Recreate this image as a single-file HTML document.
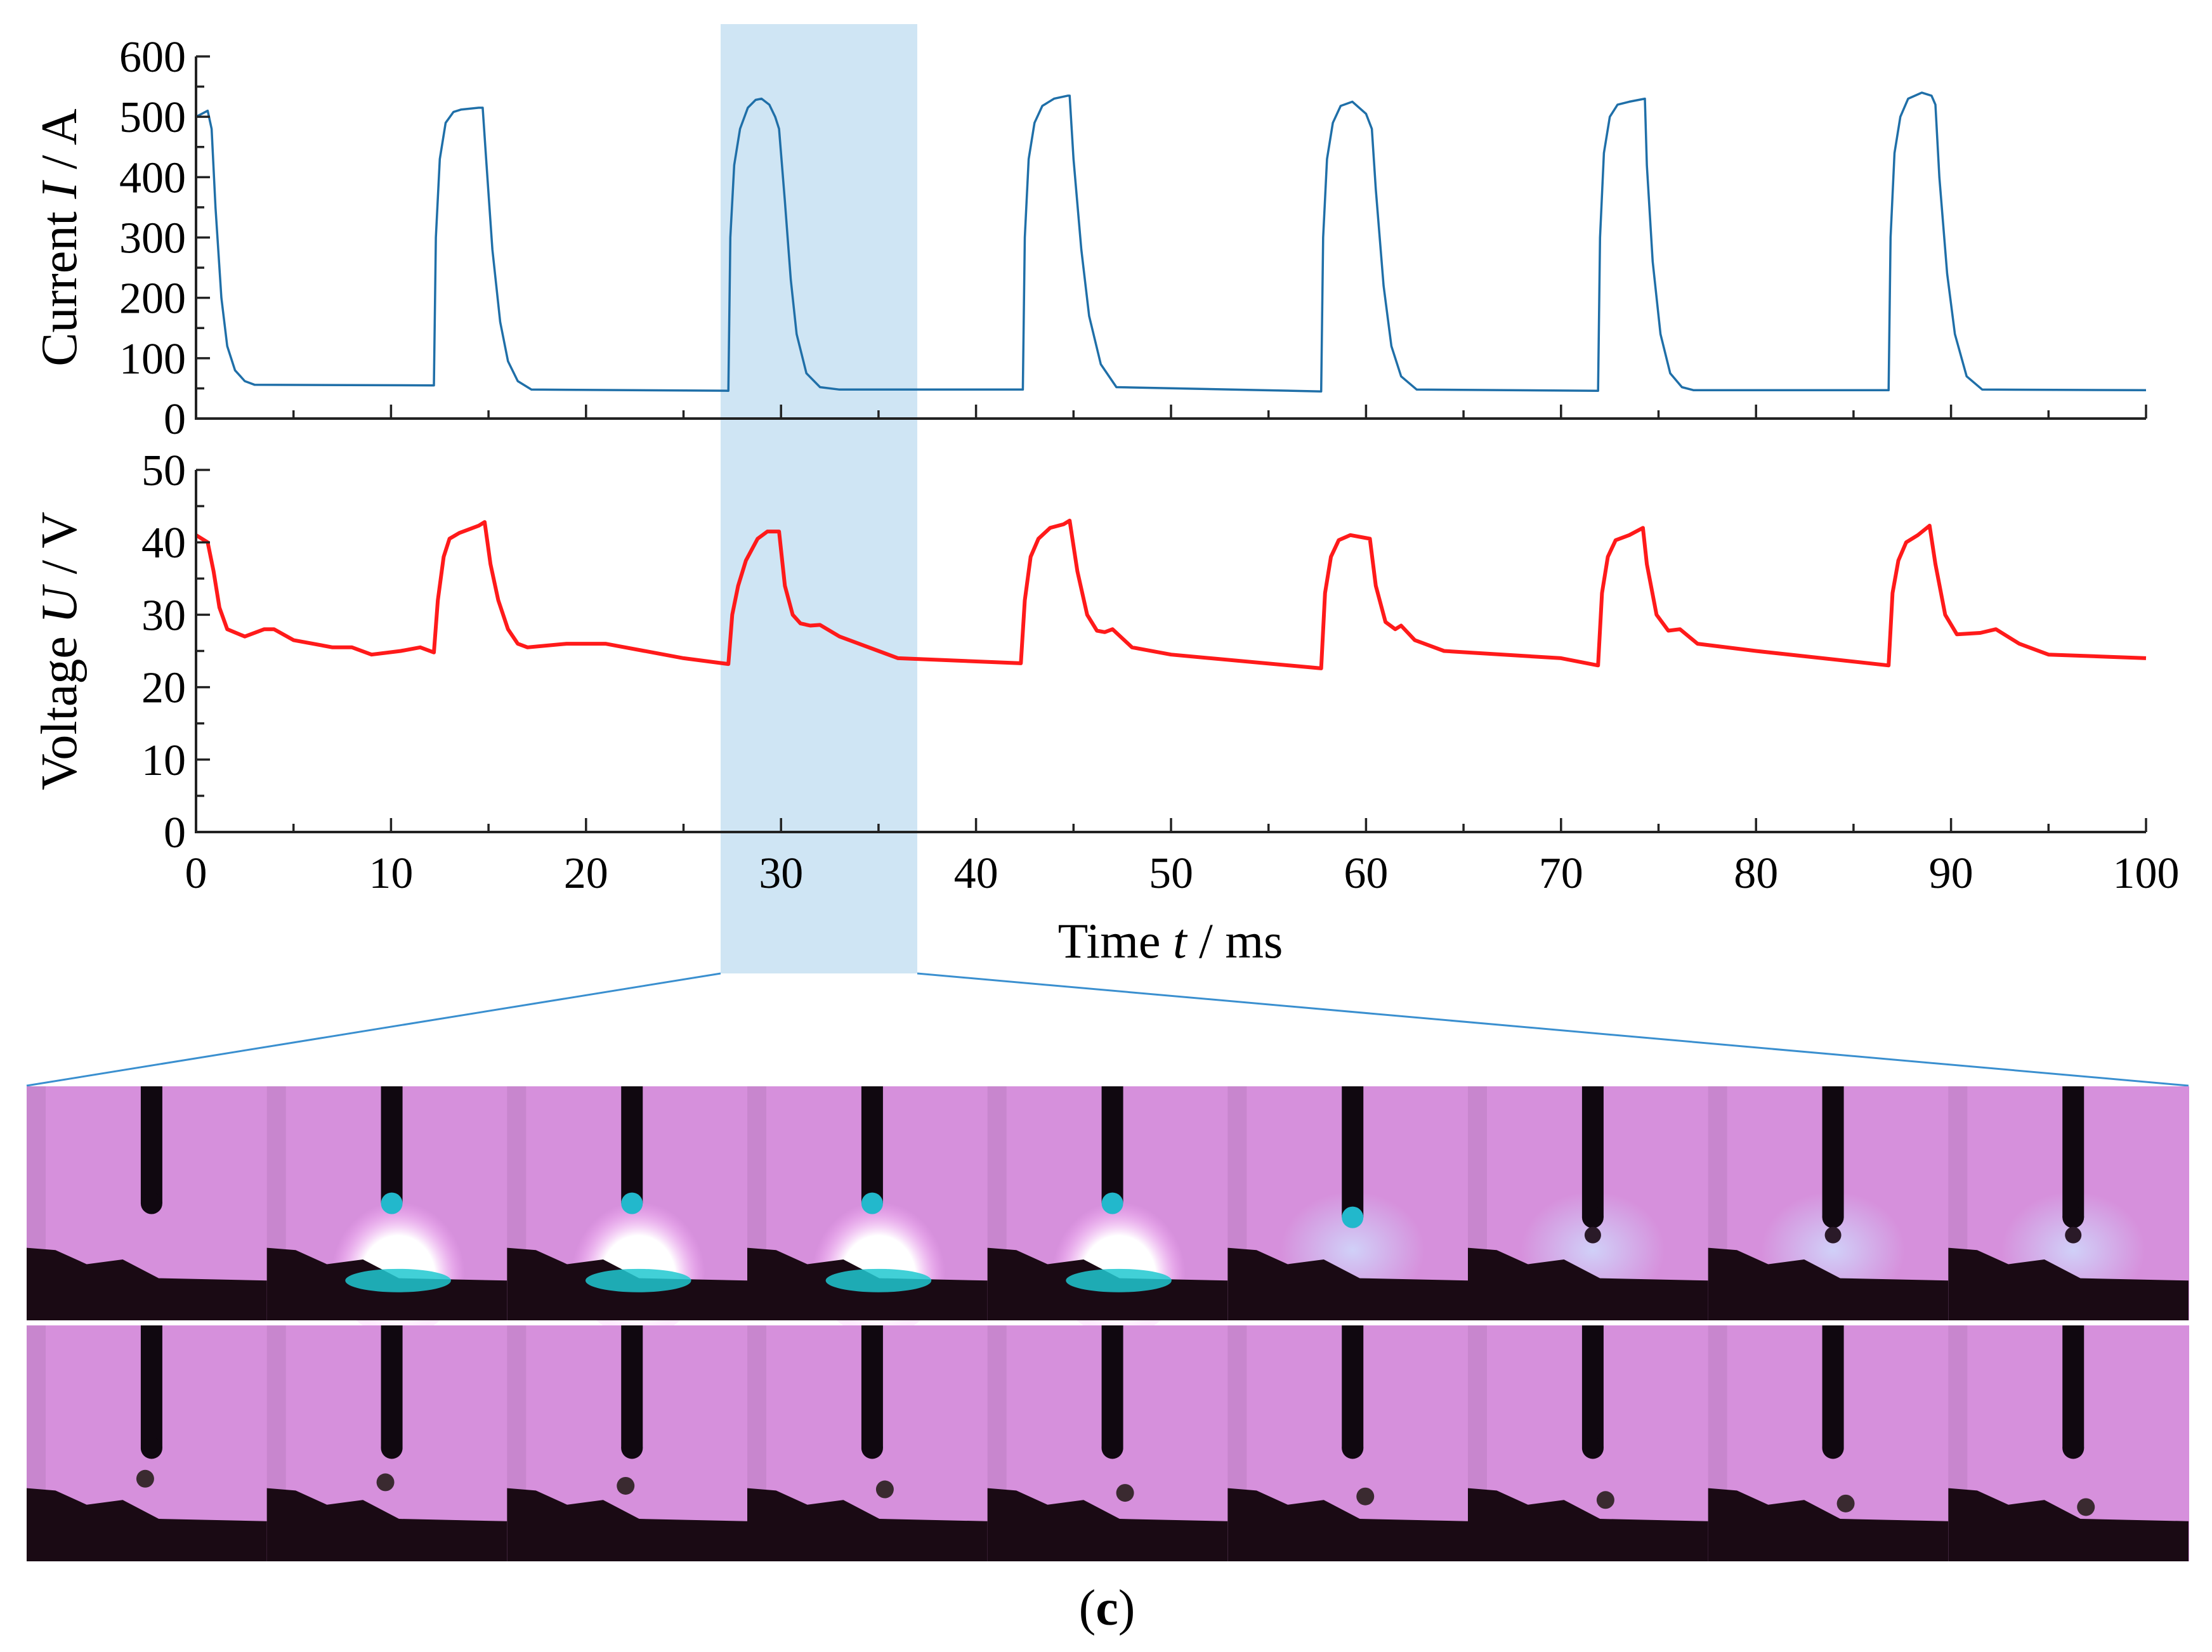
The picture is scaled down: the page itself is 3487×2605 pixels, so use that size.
<!DOCTYPE html>
<html><head><meta charset="utf-8"><style>
html,body{margin:0;padding:0;background:#fff;}
svg{display:block;font-family:"Liberation Serif",serif;}
</style></head><body>
<svg id="fig" width="3487" height="2605" viewBox="0 0 3487 2605" xmlns="http://www.w3.org/2000/svg">
<defs>
<radialGradient id="glow" cx="50%" cy="60%" r="50%"><stop offset="0" stop-color="#ffffff"/><stop offset="0.55" stop-color="#ffffff"/><stop offset="1" stop-color="#ffb0ff" stop-opacity="0"/></radialGradient>
<radialGradient id="softglow" cx="50%" cy="50%" r="50%"><stop offset="0" stop-color="#cfe0ff" stop-opacity="0.8"/><stop offset="1" stop-color="#cfe0ff" stop-opacity="0"/></radialGradient>
</defs>
<rect x="1136" y="38" width="310" height="1497" fill="#cfe5f4"/>
<g id="current"></g>
<g id="voltage"></g>
<line x1="1136" y1="1535" x2="42" y2="1712" stroke="#3a8fcf" stroke-width="3"/>
<line x1="1446" y1="1535" x2="3450" y2="1712" stroke="#3a8fcf" stroke-width="3"/>
<g id="photos"></g>
<text x="1745" y="2562" font-size="80" text-anchor="middle">(<tspan font-weight="bold">c</tspan>)</text>
</svg>
<script>
const currentPoints=[[0,500],[0.3,505],[0.6,510],[0.8,480],[1.0,350],[1.3,200],[1.6,120],[2.0,80],[2.5,62],[3,56],[12.2,55],[12.3,300],[12.5,430],[12.8,490],[13.2,508],[13.6,512],[14.5,515],[14.7,515],[14.9,420],[15.2,280],[15.6,160],[16.0,95],[16.5,62],[17.2,48],[27.3,46],[27.4,300],[27.6,420],[27.9,480],[28.3,515],[28.7,528],[29.0,530],[29.4,520],[29.7,500],[29.9,480],[30.2,360],[30.5,230],[30.8,140],[31.3,75],[32.0,52],[33,48],[42.4,48],[42.5,300],[42.7,430],[43.0,490],[43.4,518],[44.0,530],[44.7,535],[44.8,535],[45.0,430],[45.4,280],[45.8,170],[46.4,90],[47.2,52],[57.7,45],[57.8,300],[58.0,430],[58.3,490],[58.7,518],[59.3,525],[60.0,505],[60.3,480],[60.5,380],[60.9,220],[61.3,120],[61.8,70],[62.6,48],[71.9,46],[72.0,300],[72.2,440],[72.5,500],[72.9,520],[73.5,525],[74.3,530],[74.4,420],[74.7,260],[75.1,140],[75.6,75],[76.2,52],[76.8,47],[86.8,47],[86.9,300],[87.1,440],[87.4,500],[87.8,530],[88.5,540],[89.0,535],[89.2,520],[89.4,400],[89.8,240],[90.2,140],[90.8,70],[91.6,48],[100,47]];
const voltagePoints=[[0,41],[0.6,40],[0.9,36],[1.2,31],[1.6,28],[2.5,27],[3.5,28],[4,28],[5,26.5],[7,25.5],[8,25.5],[9,24.5],[10.5,25],[11.5,25.5],[12.2,24.8],[12.4,32],[12.7,38],[13.0,40.5],[13.5,41.3],[14.5,42.3],[14.8,42.8],[15.1,37],[15.5,32],[16.0,28],[16.5,26],[17,25.5],[19,26],[21,26],[23,25],[25,24],[27.3,23.2],[27.5,30],[27.8,34],[28.2,37.5],[28.8,40.5],[29.3,41.5],[29.9,41.5],[30.2,34],[30.6,30],[31.0,28.8],[31.5,28.5],[32,28.6],[33,27],[35,25],[36,24],[42.3,23.3],[42.5,32],[42.8,38],[43.2,40.5],[43.8,42],[44.5,42.5],[44.8,43],[45.2,36],[45.7,30],[46.2,27.8],[46.6,27.6],[47,28],[48,25.5],[50,24.5],[57.7,22.6],[57.9,33],[58.2,38],[58.6,40.3],[59.2,41],[60.2,40.5],[60.5,34],[61.0,29],[61.5,28],[61.8,28.5],[62.5,26.5],[64,25],[70,24],[71.9,23],[72.1,33],[72.4,38],[72.8,40.3],[73.5,41],[74.2,42],[74.4,37],[74.9,30],[75.5,27.8],[76.1,28],[77,26],[80,25],[86.8,23],[87,33],[87.3,37.5],[87.7,40],[88.3,41],[88.9,42.3],[89.2,37],[89.7,30],[90.3,27.3],[91.5,27.5],[92.3,28],[93.5,26],[95,24.5],[98,24.2],[100,24]];
const xTicks=[0,10,20,30,40,50,60,70,80,90,100];
const currentTicks=[0,100,200,300,400,500,600];
const voltageTicks=[0,10,20,30,40,50];

const NS="http://www.w3.org/2000/svg";
const X0=309,X1=3383;
const xs=t=>X0+(X1-X0)*t/100;
function mk(tag,attrs,parent){const e=document.createElementNS(NS,tag);for(const k in attrs)e.setAttribute(k,attrs[k]);parent.appendChild(e);return e;}

function panel(g,yTop,yBot,vmax,ticks,minorStep,points,color,sw,title,italic,unit,showX){
  const ys=v=>yBot-(yBot-yTop)*v/vmax;
  let d="";points.forEach((p,i)=>{d+=(i?"L":"M")+xs(p[0]).toFixed(1)+","+ys(p[1]).toFixed(1);});
  const line=mk("path",{d:d,fill:"none",stroke:color,"stroke-width":sw,"stroke-linejoin":"round"},g);
  
  
  const ax=mk("path",{d:`M${X0},${yTop}V${yBot}H${X1}`,fill:"none",stroke:"#222","stroke-width":4},g);
  
  
  for(let v=0;v<=vmax+1e-9;v+=minorStep){
    const major=ticks.some(t=>Math.abs(t-v)<1e-6);
    mk("line",{x1:X0,x2:X0+(major?22:13),y1:ys(v),y2:ys(v),stroke:"#222","stroke-width":3.5},g);
  }
  ticks.forEach(v=>{
    const t=mk("text",{x:X0-16,y:ys(v)+24,"font-size":70,"text-anchor":"end"},g);
    t.textContent=v;
    
    
  });
  for(let t=0;t<=100;t+=5){
    const major=t%10===0;
    mk("line",{x1:xs(t),x2:xs(t),y1:yBot,y2:yBot-(major?22:13),stroke:"#222","stroke-width":3.5},g);
  }
  if(showX){
    xTicks.forEach(t=>{
      const e=mk("text",{x:xs(t),y:1400,"font-size":70,"text-anchor":"middle"},g);
      e.textContent=t;
      
      
    });
  }
  const cy=(yTop+yBot)/2;
  const tt=mk("text",{x:0,y:0,"font-size":80,"text-anchor":"middle",transform:`translate(120,${cy}) rotate(-90)`},g);
  tt.innerHTML=`${title}  <tspan font-style="italic">${italic}</tspan> / ${unit}`;
  
  
}
panel(document.getElementById("current"),89,660,600,currentTicks,50,currentPoints,"#1f6fa8",3.5,"Current","I","A",false);
panel(document.getElementById("voltage"),741,1312,50,voltageTicks,5,voltagePoints,"#ff1a1a",6,"Voltage","U","V",true);
const xt=mk("text",{x:1845,y:1510,"font-size":78,"text-anchor":"middle"},document.getElementById("fig"));
xt.innerHTML='Time  <tspan font-style="italic">t</tspan> / ms';



// photos
const P=document.getElementById("photos");
const FW=(3450-42)/9;
const rows=[[1713,2082],[2090,2462]];
const arcFrames=[1,2,3,4];
rows.forEach((r,ri)=>{
  const H=r[1]-r[0];
  for(let i=0;i<9;i++){
    const x=42+i*FW,y=r[0];
    const fg=mk("g",{},P);
    
    
    mk("rect",{x:x,y:y,width:FW+1,height:H,fill:"#d690dc"},fg);
    mk("rect",{x:x,y:y,width:30,height:H,fill:"#b577b8",opacity:0.4},fg);
    const ex=x+FW*0.52;
    const tipY=ri===0?(i<5?y+H*0.50:y+H*0.56):y+H*0.52;
    if(ri===0&&arcFrames.includes(i)){
      mk("ellipse",{cx:ex+10,cy:y+H*0.75,rx:FW*0.28,ry:H*0.32,fill:"url(#glow)"},fg);
    }
    if(ri===0&&i>=5){mk("ellipse",{cx:ex,cy:y+H*0.7,rx:FW*0.3,ry:H*0.25,fill:"url(#softglow)"},fg);}
    mk("polygon",{points:`${x},${y+H*0.69} ${x+FW*0.12},${y+H*0.7} ${x+FW*0.25},${y+H*0.76} ${x+FW*0.4},${y+H*0.74} ${x+FW*0.55},${y+H*0.82} ${x+FW},${y+H*0.83} ${x+FW},${y+H} ${x},${y+H}`,fill:"#1a0a14"},fg);
    if(ri===0&&arcFrames.includes(i)){
      mk("ellipse",{cx:ex+10,cy:y+H*0.83,rx:FW*0.22,ry:H*0.05,fill:"#20c8d0",opacity:0.85},fg);
    }
    mk("rect",{x:ex-17,y:y,width:34,height:tipY-y,rx:0,fill:"#100810"},fg);
    mk("circle",{cx:ex,cy:tipY,r:17,fill:ri===0&&i>=1&&i<=5?"#22b8cc":"#100810"},fg);
    if(ri===1){mk("circle",{cx:ex+(i<3?-10:20),cy:y+H*(0.65+i*0.015),r:14,fill:"#3a2a30"},fg);}
    if(ri===0&&i>=6){mk("circle",{cx:ex,cy:tipY+28,r:13,fill:"#2a1a28"},fg);}
  }
});
</script>
</body></html>
